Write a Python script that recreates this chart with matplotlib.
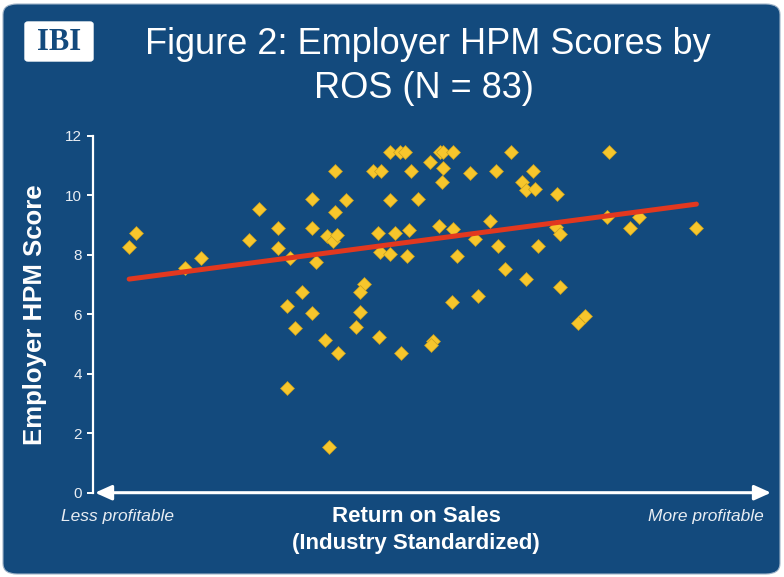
import matplotlib
matplotlib.use("Agg")
import matplotlib.pyplot as plt
from matplotlib.patches import FancyBboxPatch
import numpy as np

plt.rcParams['font.family'] = ['Liberation Sans', 'DejaVu Sans']

# Standardized return on sales (x) and employer HPM score (y)
ros = [-2.68, -2.62, -2.19, -2.04, -1.62, -1.53, -1.36, -1.36, -1.26, -1.06,
       -1.06, -0.93, -0.88, -0.84, -0.86, -0.86, -1.03, -1.15, -1.28, -1.06,
       -1.21, -0.95, -0.83, -1.28, -0.91, -0.37, -0.28, -0.24, 0.07, 0.10,
       0.19, 0.70, -0.52, -0.45, -0.19, -0.02, 0.10, 0.34, 0.57, 0.89,
       0.09, 0.80, 0.83, 0.91, -0.76, -0.37, -0.12, -0.48, -0.33, -0.20,
       0.06, 0.19, 0.51, 0.38, -0.46, -0.37, -0.22, 0.22, 0.58, 0.65,
       0.83, 0.94, -0.60, -0.64, 0.18, 0.41, -0.64, -0.67, -0.47, -0.27,
       0.01, -0.01, 1.57, 1.11, 1.55, 1.83, 1.75, 2.34, 1.10, 1.13,
       1.13, 1.35, 1.29]
hpm = [8.25, 8.74, 7.56, 7.88, 8.49, 9.53, 8.89, 8.22, 7.90, 9.87,
       8.91, 8.63, 8.46, 8.65, 10.81, 9.44, 7.74, 6.74, 6.29, 6.03,
       5.53, 5.13, 4.69, 3.53, 1.55, 11.44, 11.44, 11.44, 11.44, 11.44,
       11.44, 11.44, 10.82, 10.82, 10.82, 11.11, 10.90, 10.74, 10.81, 10.81,
       10.45, 10.46, 10.17, 10.20, 9.83, 9.83, 9.86, 8.74, 8.72, 8.83,
       8.97, 8.86, 9.13, 8.54, 8.10, 8.02, 7.97, 7.97, 8.29, 7.51,
       7.18, 8.29, 7.01, 6.76, 6.42, 6.62, 6.08, 5.58, 5.22, 4.69,
       5.10, 4.96, 11.44, 10.04, 9.28, 9.28, 8.91, 8.91, 8.94, 8.70,
       6.92, 5.94, 5.69]

# Linear trend line
trend_x = [-2.68, 2.34]
trend_y = [7.18, 9.70]

yticks = [0, 2, 4, 6, 8, 10, 12]

BG = '#134a7d'
YELLOW = '#f7c62c'
RED = '#e2381f'

fig = plt.figure(figsize=(7.84, 5.77), dpi=100)
fig.patch.set_facecolor('white')

W, H = 784, 577
panel = FancyBboxPatch((3 / W, 3 / H), 777 / W, 570 / H,
                       boxstyle="round,pad=0,rounding_size=0.018",
                       transform=fig.transFigure, facecolor=BG,
                       edgecolor='#9fb3c8', linewidth=0.8, zorder=-5)
fig.patches.append(panel)

# IBI logo
logo = FancyBboxPatch((25 / W, 1 - 61 / H), 68 / W, 39 / H,
                      boxstyle="round,pad=0,rounding_size=0.004",
                      transform=fig.transFigure, facecolor='white',
                      edgecolor='white', zorder=-4)
fig.patches.append(logo)
fig.text(59 / W, 1 - 42 / H, 'IBI', ha='center', va='center',
         fontsize=22, color=BG, family=['Liberation Serif', 'DejaVu Serif'],
         fontweight='bold')

# Title
fig.text(428 / W, 1 - 45 / H, 'Figure 2: Employer HPM Scores by',
         ha='center', va='center', fontsize=26, color='white')
fig.text(424 / W, 1 - 88 / H, 'ROS (N = 83)',
         ha='center', va='center', fontsize=26, color='white')

ax = fig.add_axes([93 / W, 1 - 492.7 / H, 678 / W, 357 / H])
ax.set_facecolor('none')
ax.patch.set_alpha(0)

ax.scatter(ros, hpm, marker='D', s=50, color=YELLOW,
           edgecolors='#c9a020', linewidths=0.5, zorder=3, clip_on=False)
ax.plot(trend_x, trend_y, color=RED, linewidth=3.6, solid_capstyle='round',
        zorder=4)

ax.set_xlim(-3, 3)
ax.set_ylim(0, 12)
ax.set_yticks(yticks)
ax.set_yticklabels([str(t) for t in yticks])
ax.set_xticks([])

for s in ['top', 'right', 'bottom']:
    ax.spines[s].set_visible(False)
ax.spines['left'].set_color('white')
ax.spines['left'].set_linewidth(1.6)
ax.tick_params(axis='y', colors='white', labelcolor='#e8edf3', length=4,
               width=1.4, direction='out', labelsize=11, pad=4)

# Double-headed x-axis arrow
ax.annotate('', xy=(1.0, 0), xytext=(0.003, 0), xycoords='axes fraction',
            textcoords='axes fraction',
            arrowprops=dict(arrowstyle='<|-|>,head_length=1.0,head_width=0.45',
                            color='white', lw=2.2, shrinkA=0, shrinkB=0),
            annotation_clip=False)

# Axis labels
fig.text(35 / W, 1 - 315 / H, 'Employer HPM Score', rotation=90,
         ha='center', va='center', fontsize=18.5, fontweight='bold',
         color='white')
fig.text(416 / W, 1 - 516 / H, 'Return on Sales', ha='center', va='center',
         fontsize=16, fontweight='bold', color='white')
fig.text(416 / W, 1 - 543 / H, '(Industry Standardized)', ha='center',
         va='center', fontsize=16, fontweight='bold', color='white')
fig.text(117 / W, 1 - 516 / H, 'Less profitable', ha='center', va='center',
         fontsize=12.5, style='italic', color='#e8edf3')
fig.text(706 / W, 1 - 516 / H, 'More profitable', ha='center', va='center',
         fontsize=12.5, style='italic', color='#e8edf3')

fig.savefig('out.png', dpi=100, facecolor=fig.get_facecolor())
